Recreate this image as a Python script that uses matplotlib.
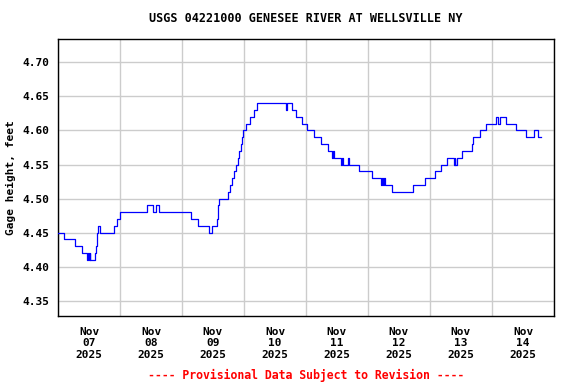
import matplotlib
matplotlib.use("Agg")
import matplotlib.pyplot as plt
import numpy as np

# gage height, step readings (hours after Nov 07 2025 00:00, feet)
hours = [0, 2.4, 6.5, 9.2, 11.3, 11.6, 12.0, 12.2, 12.5, 14.4, 14.8, 15.0, 15.4, 16.4,
         21.8, 22.7, 24.0, 34.5, 36.9, 37.9, 39.2, 51.3, 54.3, 58.5, 59.7, 61.4,
         61.8, 62.1, 62.4, 65.9, 66.6, 67.5, 68.0, 68.9, 69.8, 70.2, 70.7, 71.1,
         71.6, 72.7, 74.4, 75.9, 77.2, 88.3, 88.7, 90.5, 92.1, 94.3, 96.5, 99.2,
         101.8, 104.4, 106.2, 106.5, 106.7, 109.7, 110.0, 110.2, 112.4, 112.8,
         116.4, 121.6, 125.0, 125.4, 125.8, 126.2, 126.7, 129.3, 137.3, 142.0,
         146.0, 148.3, 150.5, 153.1, 153.5, 153.8, 154.6, 156.5, 160.1, 160.8,
         163.4, 165.7, 169.6, 170.5, 171.1, 173.4, 177.3, 181.2, 184.3, 185.9, 186.9]
height = [4.45, 4.44, 4.43, 4.42, 4.41, 4.42, 4.41, 4.42, 4.41, 4.42, 4.43, 4.45, 4.46, 4.45,
          4.46, 4.47, 4.48, 4.49, 4.48, 4.49, 4.48, 4.47, 4.46, 4.45, 4.46, 4.47,
          4.48, 4.49, 4.50, 4.51, 4.52, 4.53, 4.54, 4.55, 4.56, 4.57, 4.58, 4.59,
          4.60, 4.61, 4.62, 4.63, 4.64, 4.63, 4.64, 4.63, 4.62, 4.61, 4.60, 4.59,
          4.58, 4.57, 4.56, 4.57, 4.56, 4.55, 4.56, 4.55, 4.56, 4.55,
          4.54, 4.53, 4.52, 4.53, 4.52, 4.53, 4.52, 4.51, 4.52, 4.53,
          4.54, 4.55, 4.56, 4.55, 4.56, 4.55, 4.56, 4.57, 4.58, 4.59,
          4.60, 4.61, 4.62, 4.61, 4.62, 4.61, 4.60, 4.59, 4.60, 4.59, 4.59]

days = ["07", "08", "09", "10", "11", "12", "13", "14"]
month = "Nov"
year = "2025"
yticks = [4.35, 4.40, 4.45, 4.50, 4.55, 4.60, 4.65, 4.70]

mono = "DejaVu Sans Mono"

fig = plt.figure(figsize=(5.76, 3.84), dpi=100)
ax = fig.add_axes([58 / 576, 1 - 316 / 384, 496 / 576, 277 / 384])

ax.plot(hours, height, drawstyle="steps-post", color="#0000ff", lw=0.9, zorder=3)

ax.set_xlim(0, 24 * len(days))
ax.set_ylim(4.3275, 4.7344)

ax.set_xticks(np.arange(0, 24 * len(days) + 1, 24))
ax.set_xticklabels([])
ax.set_xticks(np.arange(12, 24 * len(days), 24), minor=True)
ax.set_xticklabels([f"{month}\n{d}\n{year}" for d in days], minor=True,
                   fontfamily=mono, fontweight="bold", fontsize=8, linespacing=1.15)
ax.set_yticks(yticks)
ax.set_yticklabels([f"{v:.2f}" for v in yticks], fontfamily=mono, fontweight="bold", fontsize=8)

ax.tick_params(axis="both", which="both", length=0)
ax.tick_params(axis="x", which="minor", pad=8)
ax.tick_params(axis="y", pad=6)
ax.grid(True, which="major", color="#cccccc", lw=1.0)
for s in ax.spines.values():
    s.set_linewidth(1.0)
    s.set_color("black")

ax.set_ylabel("Gage height, feet", fontfamily=mono, fontweight="bold", fontsize=8)
ax.yaxis.set_label_coords(-0.084, 0.5)
ax.set_title("USGS 04221000 GENESEE RIVER AT WELLSVILLE NY", fontfamily=mono,
             fontweight="bold", fontsize=8.5, pad=12)

fig.text(306 / 576, 1 - 375 / 384, "---- Provisional Data Subject to Revision ----",
         ha="center", va="center", color="red", fontfamily=mono, fontweight="bold", fontsize=8.3)

fig.savefig("out.png", dpi=100)
